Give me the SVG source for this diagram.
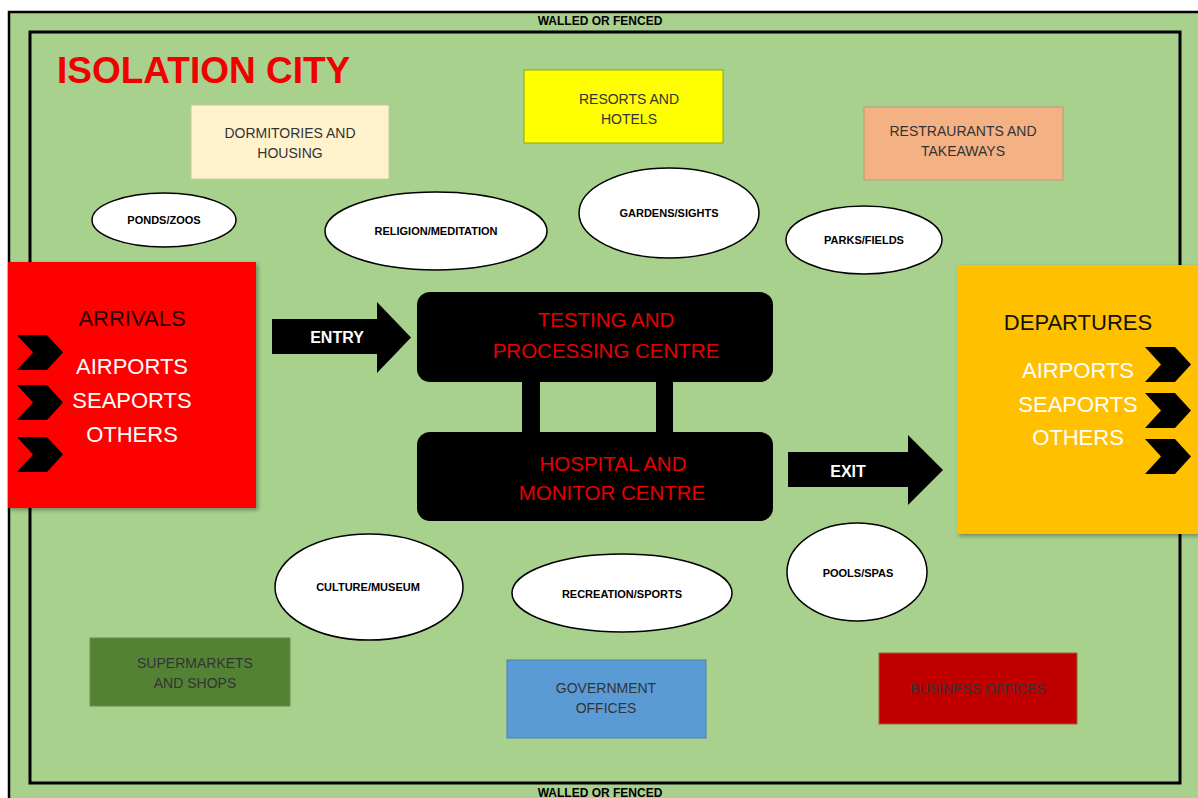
<svg xmlns="http://www.w3.org/2000/svg" width="1198" height="798" viewBox="0 0 1198 798">
<style>
.t{font-family:"Liberation Sans",Arial,sans-serif;text-anchor:middle;dominant-baseline:central}
.wall{font-size:12px;font-weight:bold;fill:#000}
.lbl{font-size:14px;fill:#333}
.ell{fill:#fff;stroke:#000;stroke-width:1.5}
.etx{font-size:11px;font-weight:bold;fill:#000}
.big{font-size:22px}
.ctr{font-size:20.5px;fill:#e60000}
.arw{font-size:16px;font-weight:bold;fill:#fff}
.blk{fill:#000}
</style>
<defs>
<filter id="sh" x="-10%" y="-10%" width="130%" height="130%">
<feDropShadow dx="2" dy="2" stdDeviation="2" flood-color="#000" flood-opacity="0.35"/>
</filter>
<polygon id="chev" points="0,0 30,0 46,17.5 30,35 0,35 16,17.5" fill="#000"/>
</defs>
<rect width="1198" height="798" fill="#fff"/>
<g id="site">
<rect x="9" y="12" width="1200" height="800" fill="#A9D18E" stroke="#000" stroke-width="2.5"/>
<rect x="30" y="32" width="1150" height="751" fill="none" stroke="#000" stroke-width="3"/>
<text class="t wall" x="600" y="21">WALLED OR FENCED</text>
<text class="t wall" x="600" y="793">WALLED OR FENCED</text>
<text x="57" y="83" font-family="Liberation Sans,Arial,sans-serif" font-weight="bold" font-size="37" fill="#f00000">ISOLATION CITY</text>
</g>
<g id="dormitories">
<rect x="191" y="105" width="198" height="74" fill="#FFF2CC" stroke="#c8c8a0" stroke-width="1"/>
<text class="t lbl" x="290" y="133">DORMITORIES AND</text>
<text class="t lbl" x="290" y="153">HOUSING</text>
</g>
<g id="resorts">
<rect x="524" y="70" width="199" height="73" fill="#FFFF00" stroke="#8fa030" stroke-width="1"/>
<text class="t lbl" x="629" y="99">RESORTS AND</text>
<text class="t lbl" x="629" y="119">HOTELS</text>
</g>
<g id="restaurants">
<rect x="864" y="107" width="199" height="73" fill="#F4B183" stroke="#b0a070" stroke-width="1"/>
<text class="t lbl" x="963" y="131">RESTRAURANTS AND</text>
<text class="t lbl" x="963" y="151">TAKEAWAYS</text>
</g>
<g id="ponds">
<ellipse class="ell" cx="164" cy="220" rx="72" ry="27"/>
<text class="t etx" x="164" y="220">PONDS/ZOOS</text>
</g>
<g id="religion">
<ellipse class="ell" cx="436" cy="231" rx="111" ry="39"/>
<text class="t etx" x="436" y="231">RELIGION/MEDITATION</text>
</g>
<g id="gardens">
<ellipse class="ell" cx="669" cy="213" rx="90" ry="45"/>
<text class="t etx" x="669" y="213">GARDENS/SIGHTS</text>
</g>
<g id="parks">
<ellipse class="ell" cx="864" cy="240" rx="78" ry="34"/>
<text class="t etx" x="864" y="240">PARKS/FIELDS</text>
</g>
<g id="arrivals">
<rect x="8" y="262" width="248" height="246" fill="#FF0000" filter="url(#sh)"/>
<text class="t big" x="132" y="318" fill="#2a0000">ARRIVALS</text>
<text class="t big" x="132" y="366" fill="#fff">AIRPORTS</text>
<text class="t big" x="132" y="400" fill="#fff">SEAPORTS</text>
<text class="t big" x="132" y="434" fill="#fff">OTHERS</text>
<use href="#chev" x="17" y="335"/>
<use href="#chev" x="17" y="385"/>
<use href="#chev" x="17" y="437"/>
</g>
<g id="departures">
<rect x="957" y="265" width="250" height="269" fill="#FFC000" filter="url(#sh)"/>
<text class="t big" x="1078" y="322" fill="#111">DEPARTURES</text>
<text class="t big" x="1078" y="370" fill="#fff">AIRPORTS</text>
<text class="t big" x="1078" y="404" fill="#fff">SEAPORTS</text>
<text class="t big" x="1078" y="437" fill="#fff">OTHERS</text>
<use href="#chev" x="1145" y="347"/>
<use href="#chev" x="1145" y="393"/>
<use href="#chev" x="1145" y="439"/>
</g>
<g id="connectors">
<rect class="blk" x="522" y="378" width="18" height="58"/>
<rect class="blk" x="656" y="378" width="17" height="58"/>
<polygon class="blk" points="272,319 377,319 377,302 411,337.5 377,373 377,354 272,354"/>
<text class="t arw" x="337" y="337">ENTRY</text>
<polygon class="blk" points="788,452 908,452 908,435 943,470 908,505 908,487 788,487"/>
<text class="t arw" x="848" y="471">EXIT</text>
</g>
<g id="testing">
<rect x="417" y="292" width="356" height="90" rx="13" fill="#000"/>
<text class="t ctr" x="606" y="319">TESTING AND</text>
<text class="t ctr" x="606" y="350">PROCESSING CENTRE</text>
</g>
<g id="hospital">
<rect x="417" y="432" width="356" height="89" rx="13" fill="#000"/>
<text class="t ctr" x="613" y="463">HOSPITAL AND</text>
<text class="t ctr" x="612" y="492">MONITOR CENTRE</text>
</g>
<g id="culture">
<ellipse class="ell" cx="369" cy="587" rx="94" ry="53"/>
<text class="t etx" x="368" y="587">CULTURE/MUSEUM</text>
</g>
<g id="recreation">
<ellipse class="ell" cx="622" cy="593" rx="110" ry="39"/>
<text class="t etx" x="622" y="594">RECREATION/SPORTS</text>
</g>
<g id="pools">
<ellipse class="ell" cx="857" cy="572" rx="70" ry="49"/>
<text class="t etx" x="858" y="573">POOLS/SPAS</text>
</g>
<g id="supermarkets">
<rect x="90" y="638" width="200" height="68" fill="#548235" stroke="#6a8a50" stroke-width="1"/>
<text class="t lbl" x="195" y="663" fill="#1e2a14">SUPERMARKETS</text>
<text class="t lbl" x="195" y="683" fill="#1e2a14">AND SHOPS</text>
</g>
<g id="government">
<rect x="507" y="660" width="199" height="78" fill="#5B9BD5" stroke="#4a7fb0" stroke-width="1"/>
<text class="t lbl" x="606" y="688" fill="#1c2a3a">GOVERNMENT</text>
<text class="t lbl" x="606" y="708" fill="#1c2a3a">OFFICES</text>
</g>
<g id="business">
<rect x="879" y="653" width="198" height="71" fill="#C00000" stroke="#a06030" stroke-width="1"/>
<text class="t lbl" x="978" y="689" fill="#4a0000">BUSINESS OFFICES</text>
</g>
</svg>
